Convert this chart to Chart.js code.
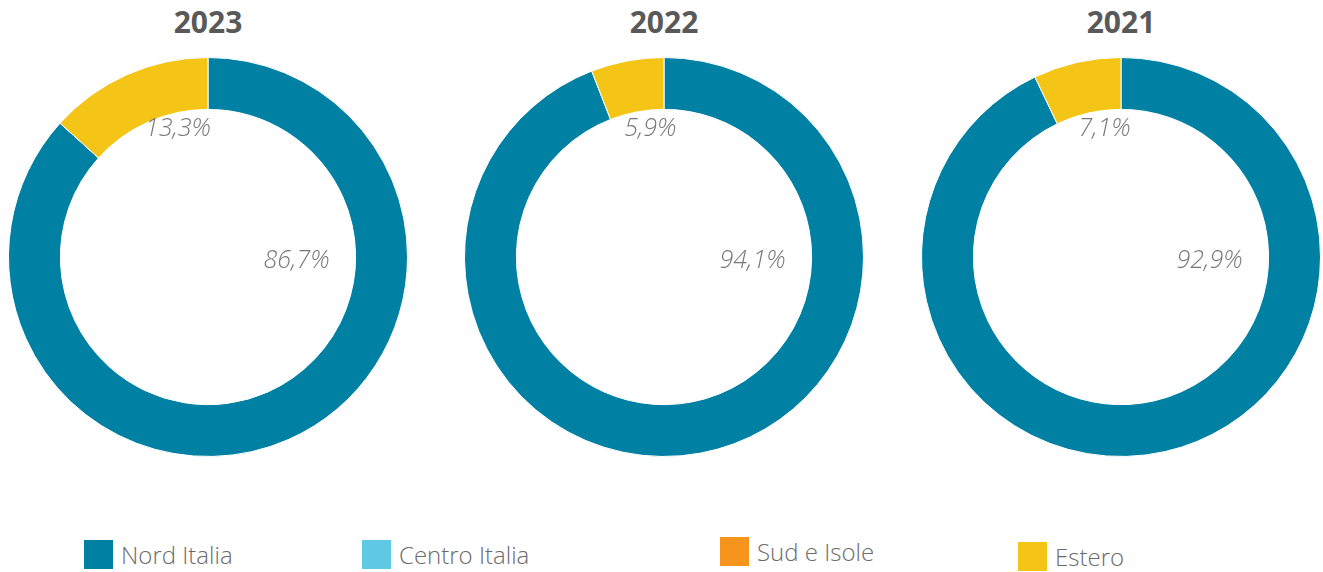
<!DOCTYPE html>
<html>
<head>
<meta charset="utf-8">
<script src="https://cdn.jsdelivr.net/npm/chart.js@4"></script>
<style>
  body { margin: 0; background: #fff; width: 1323px; height: 572px; position: relative; overflow: hidden; font-family: "Open Sans", sans-serif; }
  .title { position: absolute; top: 1px; width: 200px; text-align: center; font-weight: bold; font-size: 30px; color: #595959; }
  .pie { position: absolute; top: 57px; width: 400px; height: 400px; }
  .legend-item { position: absolute; display: flex; align-items: center; font-size: 24px; font-weight: 300; color: #6b6b6b; }
  .legend-item span.box { display: inline-block; width: 29px; height: 29px; margin-right: 8px; }
</style>
</head>
<body>
<script>
const years = ["2023", "2022", "2021"];
const regions = ["Nord Italia", "Centro Italia", "Sud e Isole", "Estero"];
const nordItalia = [86.7, 94.1, 92.9];
const centroItalia = [0, 0, 0];
const sudIsole = [0, 0, 0];
const estero = [13.3, 5.9, 7.1];
const colors = ["#0081a3", "#5fc8e5", "#f7941d", "#f4c517"];

const centersX = [208, 664, 1121];
const legendX = [84, 362, 720, 1018];
const legendY = [540, 540, 537, 542];

function fmt(v) {
  return v.toFixed(1).replace(".", ",") + "%";
}

// draws the percent labels inside the hole
const insideLabels = {
  id: "insideLabels",
  afterDatasetsDraw(chart) {
    const ctx = chart.ctx;
    const meta = chart.getDatasetMeta(0);
    const values = chart.data.datasets[0].data;
    ctx.save();
    ctx.font = "italic 300 25px 'Open Sans', sans-serif";
    ctx.fillStyle = "#787878";
    ctx.textAlign = "center";
    ctx.textBaseline = "middle";
    meta.data.forEach((arc, i) => {
      if (!values[i]) return;
      const p = arc.getProps(["x", "y", "startAngle", "endAngle", "innerRadius"], true);
      const mid = (p.startAngle + p.endAngle) / 2;
      if (values[i] > 50) {
        ctx.fillText(fmt(values[i]), p.x + p.innerRadius * 0.6, p.y + 4);
      } else {
        ctx.fillText(fmt(values[i]), p.x + Math.cos(mid) * p.innerRadius * 0.5, p.y - p.innerRadius + 20);
      }
    });
    ctx.restore();
  }
};

years.forEach((year, k) => {
  const t = document.createElement("div");
  t.className = "title";
  t.style.left = (centersX[k] - 100) + "px";
  t.textContent = year;
  document.body.appendChild(t);

  const box = document.createElement("div");
  box.className = "pie";
  box.style.left = (centersX[k] - 200) + "px";
  const cv = document.createElement("canvas");
  box.appendChild(cv);
  document.body.appendChild(box);

  new Chart(cv, {
    type: "doughnut",
    data: {
      labels: regions,
      datasets: [{
        data: [nordItalia[k], centroItalia[k], sudIsole[k], estero[k]],
        backgroundColor: colors,
        borderColor: "#ffffff",
        borderWidth: 1
      }]
    },
    options: {
      responsive: true,
      maintainAspectRatio: false,
      animation: false,
      cutout: "74%",
      layout: { padding: 0 },
      plugins: {
        legend: { display: false },
        tooltip: { enabled: false }
      }
    },
    plugins: [insideLabels]
  });
});

regions.forEach((name, i) => {
  const item = document.createElement("div");
  item.className = "legend-item";
  item.style.left = legendX[i] + "px";
  item.style.top = (legendY[i] - 2) + "px";
  const sw = document.createElement("span");
  sw.className = "box";
  sw.style.background = colors[i];
  item.appendChild(sw);
  item.appendChild(document.createTextNode(name));
  document.body.appendChild(item);
});
</script>
</body>
</html>
